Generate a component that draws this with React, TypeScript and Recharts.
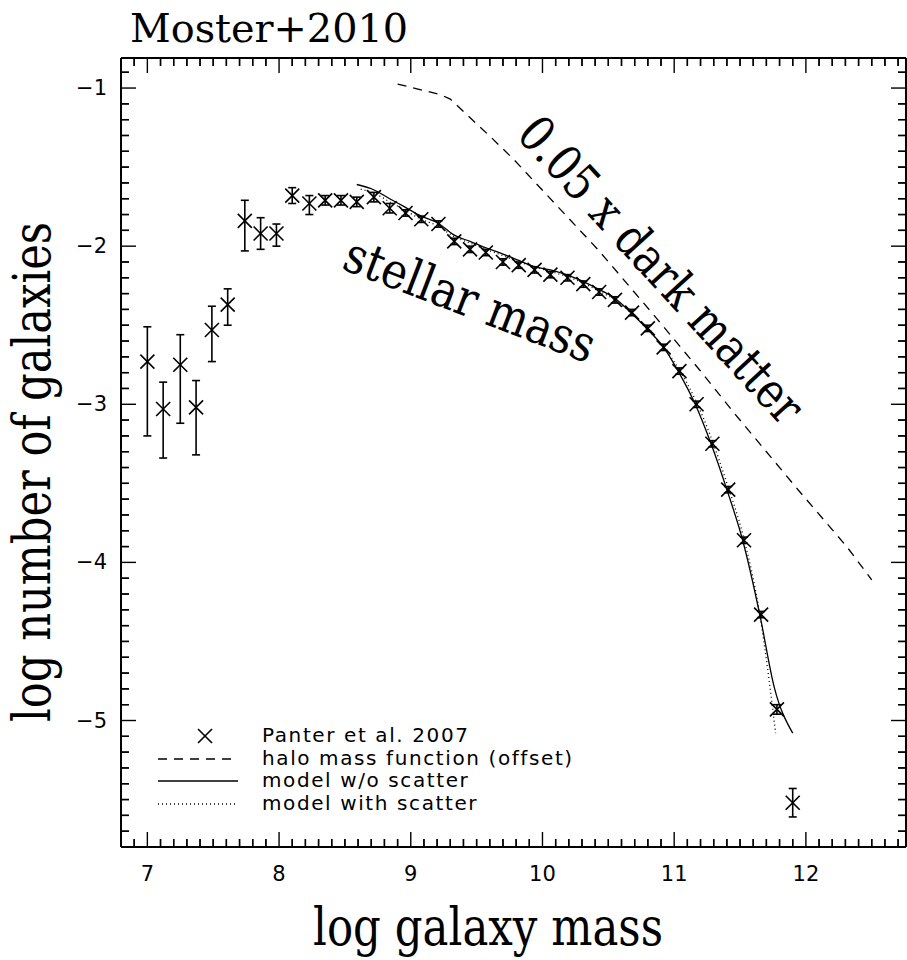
import React from "react";
import {
  ComposedChart,
  XAxis,
  YAxis,
  Scatter,
  Line,
  ErrorBar,
  Legend,
  Customized,
} from "recharts";

// Panter et al. 2007 stellar mass function (log M, log N, error bars)
const panterMass = [
  7.0, 7.12, 7.25, 7.37, 7.49, 7.61, 7.74, 7.86, 7.98, 8.1, 8.23, 8.35, 8.47, 8.59,
  8.72, 8.84, 8.96, 9.08, 9.21, 9.33, 9.45, 9.57, 9.7, 9.82, 9.94, 10.06, 10.19,
  10.31, 10.43, 10.55, 10.68, 10.8, 10.92, 11.04, 11.17, 11.29, 11.41, 11.53, 11.66,
  11.78, 11.9,
];
const panterLogN = [
  -2.73, -3.03, -2.75, -3.02, -2.53, -2.37, -1.84, -1.92, -1.92, -1.68, -1.73, -1.71,
  -1.71, -1.72, -1.69, -1.76, -1.79, -1.83, -1.86, -1.97, -2.02, -2.04, -2.1, -2.12,
  -2.15, -2.18, -2.2, -2.24, -2.29, -2.34, -2.42, -2.52, -2.64, -2.79, -3.0, -3.25,
  -3.54, -3.86, -4.33, -4.93, -5.52,
];
const panterErrUp = [
  0.22, 0.17, 0.19, 0.17, 0.15, 0.1, 0.13, 0.1, 0.06, 0.05, 0.05, 0.03, 0.03, 0.03,
  0.03, 0.03, 0.02, 0.02, 0.02, 0.02, 0.02, 0.02, 0.02, 0.02, 0.02, 0.02, 0.02, 0.02,
  0.02, 0.02, 0.02, 0.02, 0.02, 0.02, 0.02, 0.02, 0.02, 0.02, 0.02, 0.03, 0.09,
];
const panterErrDown = [
  0.47, 0.31, 0.37, 0.3, 0.2, 0.13, 0.19, 0.1, 0.08, 0.05, 0.07, 0.03, 0.03, 0.03,
  0.03, 0.03, 0.02, 0.02, 0.02, 0.02, 0.02, 0.02, 0.02, 0.02, 0.02, 0.02, 0.02, 0.02,
  0.02, 0.02, 0.02, 0.02, 0.02, 0.02, 0.02, 0.02, 0.02, 0.02, 0.02, 0.03, 0.09,
];

// halo mass function (offset), dashed
const haloMass = [8.9, 9.22, 9.3, 9.62, 9.78, 10.43, 10.86, 11.19, 11.45, 11.95, 12.31, 12.5];
const haloLogN = [-0.975, -1.04, -1.07, -1.32, -1.45, -2.03, -2.45, -2.78, -3.05, -3.55, -3.9, -4.11];

// model w/o scatter, solid
const modelMass = [
  8.59, 8.71, 8.84, 8.95, 9.08, 9.2, 9.33, 9.45, 9.57, 9.7, 9.82, 9.94, 10.06, 10.18,
  10.3, 10.42, 10.55, 10.67, 10.79, 10.92, 11.03, 11.16, 11.28, 11.4, 11.52, 11.65,
  11.76, 11.9,
];
const modelLogN = [
  -1.61, -1.64, -1.7, -1.75, -1.81, -1.85, -1.93, -1.97, -2.01, -2.05, -2.09, -2.13,
  -2.15, -2.18, -2.22, -2.27, -2.33, -2.42, -2.52, -2.64, -2.79, -3.0, -3.25, -3.54,
  -3.86, -4.33, -4.79, -5.08,
];

// model with scatter, dotted
const scatMass = [
  8.62, 8.71, 8.84, 8.95, 9.08, 9.2, 9.33, 9.45, 9.57, 9.7, 9.82, 9.94, 10.06, 10.18,
  10.3, 10.42, 10.55, 10.67, 10.79, 10.92, 11.03, 11.16, 11.28, 11.4, 11.52, 11.65,
  11.72, 11.77,
];
const scatLogN = [
  -1.64, -1.66, -1.72, -1.77, -1.83, -1.87, -1.94, -1.98, -2.02, -2.06, -2.1, -2.13,
  -2.16, -2.19, -2.23, -2.28, -2.34, -2.42, -2.52, -2.64, -2.77, -2.97, -3.21, -3.5,
  -3.82, -4.33, -4.74, -5.08,
];

// the axes count in tenths (69 = 6.9)
const TENTHS = 10;
const X_DOMAIN: [number, number] = [68, 127.6];
const Y_DOMAIN: [number, number] = [-58, -8.1];
const xTicks = Array.from({ length: 59 }, (_, i) => 69 + i);
const yTicks = Array.from({ length: 49 }, (_, i) => -57 + i);
const xMinor = xTicks.filter((v) => v % TENTHS !== 0);
const yMinor = yTicks.filter((v) => v % TENTHS !== 0);

const panterData = panterMass.map((x, i) => ({
  x: x * TENTHS,
  y: panterLogN[i] * TENTHS,
  err: [panterErrDown[i] * TENTHS, panterErrUp[i] * TENTHS],
}));
const toRows = (xs: number[], ys: number[]) => xs.map((x, i) => ({ x: x * TENTHS, y: ys[i] * TENTHS }));
const haloData = toRows(haloMass, haloLogN);
const modelData = toRows(modelMass, modelLogN);
const scatData = toRows(scatMass, scatLogN);

const MARGIN = { top: 58, right: 1, bottom: 113, left: 121 };
const W = 907;
const H = 960;
const PLOT_W = W - MARGIN.left - MARGIN.right;
const PLOT_H = H - MARGIN.top - MARGIN.bottom;

const TICK_FONT = "'DejaVu Sans', sans-serif";
const SERIF = "'DejaVu Serif', serif";
const frameStyle = { stroke: "#000", strokeWidth: 2 };
const THIN = 0.01; // axes take no room, the frame sits on the margins
const MAJOR = 15;
const MINOR = 8;

const fmt = (v: number) => (v < 0 ? "\u2212" + Math.abs(v) : String(v));

// inward major tick marks, drawn from the axis line (tickSize 0 puts x/y on the frame)
const makeTick = (side: "bottom" | "top" | "left" | "right", label = false) =>
  (props: any) => {
    const { x, y, payload } = props;
    const v = Math.round(payload.value);
    const major = v % TENTHS === 0;
    const len = major ? MAJOR : MINOR;
    let line;
    if (side === "bottom") line = <line x1={x} x2={x} y1={y} y2={y - len} />;
    else if (side === "top") line = <line x1={x} x2={x} y1={y} y2={y + len} />;
    else if (side === "left") line = <line x1={x} x2={x + len} y1={y} y2={y} />;
    else line = <line x1={x} x2={x - len} y1={y} y2={y} />;
    return (
      <g>
        <g stroke="#000" strokeWidth={1.4}>{line}</g>
        {label && major && side === "bottom" && (
          <text x={x} y={y + 34} textAnchor="middle" fontFamily={TICK_FONT} fontSize={21} fill="#000">
            {fmt(v / TENTHS)}
          </text>
        )}
        {label && major && side === "left" && (
          <text x={x - 14} y={y + 7} textAnchor="end" fontFamily={TICK_FONT} fontSize={21} fill="#000">
            {fmt(v / TENTHS)}
          </text>
        )}
      </g>
    );
  };

// minor ticks every 0.1 on the frame (the axes only keep their round ticks)
const px = (v: number) => MARGIN.left + ((v - X_DOMAIN[0]) / (X_DOMAIN[1] - X_DOMAIN[0])) * PLOT_W;
const py = (v: number) => MARGIN.top + ((Y_DOMAIN[1] - v) / (Y_DOMAIN[1] - Y_DOMAIN[0])) * PLOT_H;
const MinorTicks = () => {
  const top = MARGIN.top;
  const bottom = MARGIN.top + PLOT_H;
  const left = MARGIN.left;
  const right = MARGIN.left + PLOT_W;
  return (
    <g stroke="#000" strokeWidth={1.4}>
      {xMinor.map((v) => (
        <g key={`x${v}`}>
          <line x1={px(v)} x2={px(v)} y1={bottom} y2={bottom - MINOR} />
          <line x1={px(v)} x2={px(v)} y1={top} y2={top + MINOR} />
        </g>
      ))}
      {yMinor.map((v) => (
        <g key={`y${v}`}>
          <line x1={left} x2={left + MINOR} y1={py(v)} y2={py(v)} />
          <line x1={right} x2={right - MINOR} y1={py(v)} y2={py(v)} />
        </g>
      ))}
    </g>
  );
};

const Cross = (props: any) => {
  const { cx, cy } = props;
  const s = 7;
  return (
    <g stroke="#000" strokeWidth={1.6}>
      <line x1={cx - s} y1={cy - s} x2={cx + s} y2={cy + s} />
      <line x1={cx - s} y1={cy + s} x2={cx + s} y2={cy - s} />
    </g>
  );
};

const LegendBox = () => {
  const rows = [
    "Panter et al. 2007",
    "halo mass function (offset)",
    "model w/o scatter",
    "model with scatter",
  ];
  const ys = [14, 37, 59, 82];
  return (
    <svg width={480} height={100} style={{ display: "block" }}>
      <g stroke="#000" strokeWidth={1.6}>
        <line x1={48} y1={7} x2={62} y2={21} />
        <line x1={48} y1={21} x2={62} y2={7} />
      </g>
      <line x1={8} x2={88} y1={ys[1]} y2={ys[1]} stroke="#000" strokeWidth={1.3} strokeDasharray="9 7" />
      <line x1={8} x2={88} y1={ys[2]} y2={ys[2]} stroke="#000" strokeWidth={1.3} />
      <line x1={8} x2={88} y1={ys[3]} y2={ys[3]} stroke="#000" strokeWidth={1.3} strokeDasharray="1 3" />
      {rows.map((r, i) => (
        <text
          key={r}
          x={112}
          y={ys[i] + 6}
          fontFamily={TICK_FONT}
          fontSize={20}
          letterSpacing={1.6}
          fill="#000"
        >
          {r}
        </text>
      ))}
    </svg>
  );
};

const Annotations = () => (
  <g fill="#000" fontFamily={SERIF}>
    <MinorTicks />
    <text x={130} y={42} fontSize={40} textLength={278} lengthAdjust="spacingAndGlyphs">
      Moster+2010
    </text>
    <text x={488} y={945} fontSize={52} textAnchor="middle" textLength={350} lengthAdjust="spacingAndGlyphs">
      log galaxy mass
    </text>
    <text
      x={50}
      y={472}
      fontSize={52}
      textAnchor="middle"
      transform="rotate(-90 50 472)"
      textLength={500}
      lengthAdjust="spacingAndGlyphs"
    >
      log number of galaxies
    </text>
    <text
      x={470}
      y={300}
      fontSize={50}
      textAnchor="middle"
      dominantBaseline="central"
      transform="rotate(21 470 300)"
      textLength={265}
      lengthAdjust="spacingAndGlyphs"
    >
      stellar mass
    </text>
    <text
      x={661}
      y={270}
      fontSize={50}
      textAnchor="middle"
      dominantBaseline="central"
      transform="rotate(47.5 661 270)"
      textLength={395}
      lengthAdjust="spacingAndGlyphs"
    >
      0.05 x dark matter
    </text>
  </g>
);

const frameX = {
  type: "number" as const,
  dataKey: "x",
  domain: X_DOMAIN,
  allowDataOverflow: true,
  height: THIN,
  interval: 0 as const,
  tickSize: 0,
  tickMargin: 0,
  tickLine: false,
  axisLine: frameStyle,
  ticks: xTicks,
};
const frameY = {
  type: "number" as const,
  dataKey: "y",
  domain: Y_DOMAIN,
  allowDataOverflow: true,
  width: THIN,
  interval: 0 as const,
  tickSize: 0,
  tickMargin: 0,
  tickLine: false,
  axisLine: frameStyle,
  ticks: yTicks,
};

export default function App() {
  return (
    <div style={{ position: "absolute", left: 0, top: 0, width: W, height: H, background: "#fff" }}>
      <ComposedChart width={W} height={H} margin={MARGIN}>
        <XAxis {...frameX} xAxisId="b" orientation="bottom" tick={makeTick("bottom", true)} />
        <XAxis {...frameX} xAxisId="t" orientation="top" tick={makeTick("top")} />
        <YAxis {...frameY} yAxisId="l" orientation="left" tick={makeTick("left", true)} />
        <YAxis {...frameY} yAxisId="r" orientation="right" tick={makeTick("right")} />
        <Line
          xAxisId="t"
          yAxisId="l"
          data={haloData}
          dataKey="y"
          type="linear"
          stroke="#000"
          strokeWidth={1.3}
          strokeDasharray="9 7"
          dot={false}
          activeDot={false}
          isAnimationActive={false}
        />
        <Line
          xAxisId="b"
          yAxisId="r"
          data={scatData}
          dataKey="y"
          type="monotone"
          stroke="#000"
          strokeWidth={1.3}
          strokeDasharray="1 3"
          dot={false}
          activeDot={false}
          isAnimationActive={false}
        />
        <Line
          xAxisId="b"
          yAxisId="l"
          data={modelData}
          dataKey="y"
          type="monotone"
          stroke="#000"
          strokeWidth={1.3}
          dot={false}
          activeDot={false}
          isAnimationActive={false}
        />
        <Scatter
          xAxisId="b"
          yAxisId="l"
          data={panterData}
          dataKey="y"
          shape={<Cross />}
          isAnimationActive={false}
        >
          <ErrorBar dataKey="err" direction="y" width={4} stroke="#000" strokeWidth={1.6} />
        </Scatter>
        <Legend
          layout="vertical"
          align="center"
          verticalAlign="middle"
          wrapperStyle={{ left: 150, top: 722, width: 480, height: 100 }}
          content={() => <LegendBox />}
        />
        <Customized component={Annotations} />
      </ComposedChart>
    </div>
  );
}
